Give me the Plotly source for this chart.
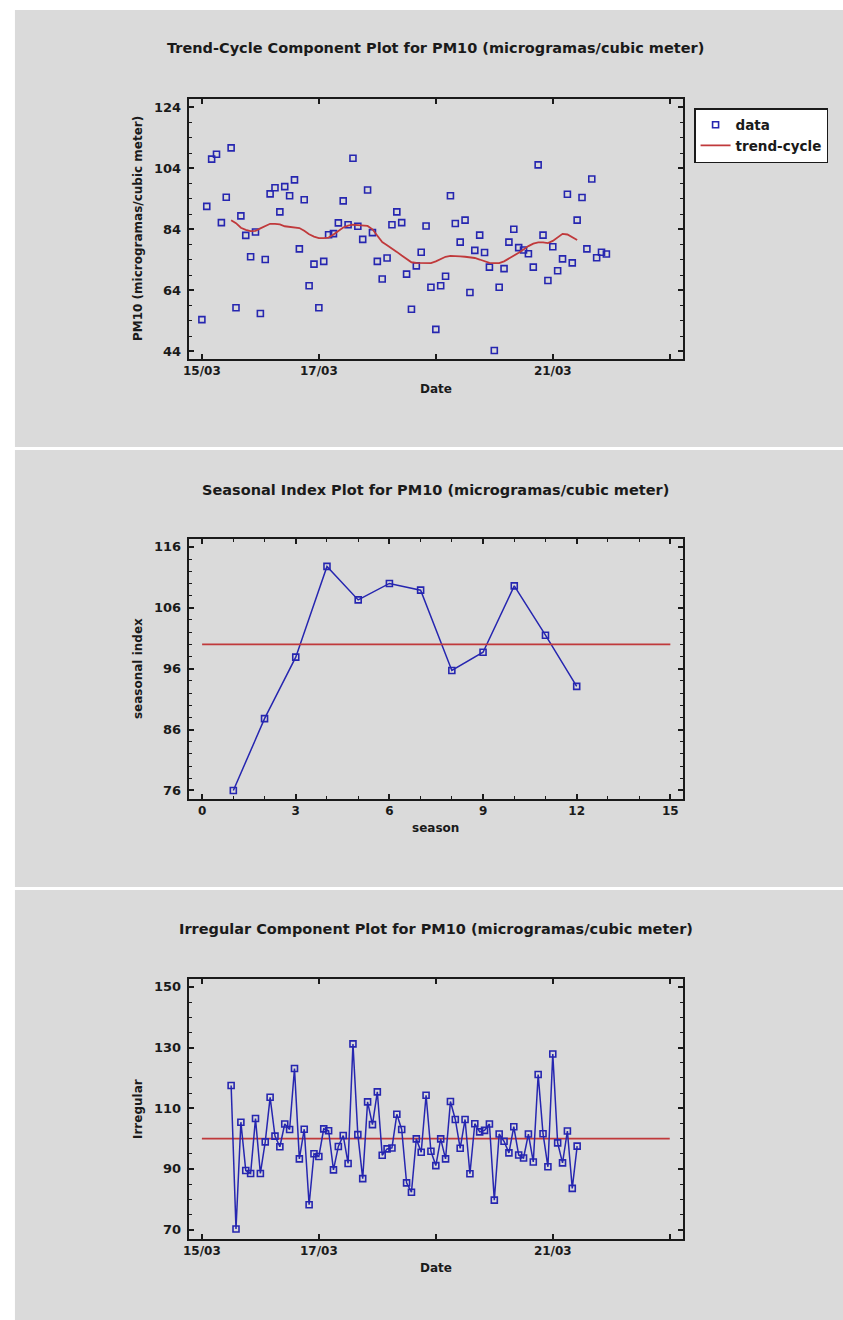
import pandas as pd
import plotly.graph_objects as go

W, H = 843, 1320

# ---------------- data ----------------
start_time = "2020-03-15 00:00"
pm10 = [54.4, 91.5, 107.0, 108.6, 86.2, 94.5, 110.7, 58.3, 88.4, 82.0,
        75.0, 83.1, 56.4, 74.1, 95.6, 97.6, 89.7, 98.0, 95.0, 100.2,
        77.6, 93.7, 65.5, 72.6, 58.3, 73.5, 82.2, 82.6, 86.1, 93.3,
        85.5, 107.3, 85.0, 80.7, 96.9, 82.9, 73.5, 67.7, 74.6, 85.5,
        89.7, 86.2, 69.3, 57.8, 72.0, 76.5, 85.1, 65.0, 51.2, 65.5,
        68.6, 95.0, 85.9, 79.8, 87.0, 63.3, 77.1, 82.1, 76.4, 71.6,
        44.3, 65.0, 71.1, 79.8, 84.0, 78.0, 77.2, 76.0, 71.6, 105.1,
        82.1, 67.2, 78.3, 70.4, 74.3, 95.5, 73.0, 87.0, 94.4, 77.6,
        100.5, 74.7, 76.5, 75.9]

trend_cycle = [87.0, 86.0, 84.5, 83.8, 83.4, 83.5, 84.3, 85.0, 85.8, 85.8,
               85.6, 85.0, 84.8, 84.7, 84.4, 83.5, 82.4, 81.6, 81.1, 81.1,
               81.3, 82.3, 83.5, 84.6, 85.2, 85.5, 85.4, 85.2, 85.1, 84.0,
               82.0, 79.8, 78.8, 77.8, 76.6, 75.4, 74.2, 73.2, 73.0, 72.9,
               72.9, 72.9, 73.5, 74.3, 75.0, 75.3, 75.3, 75.1, 75.0, 74.8,
               74.6, 74.1, 73.5, 73.0, 72.9, 72.9, 73.5, 74.4, 75.5, 76.3,
               77.4, 78.5, 79.3, 79.7, 79.7, 79.5, 80.2, 81.5, 82.5, 82.3,
               81.4, 80.5]

irregular = [117.5, 70.2, 105.4, 89.5, 88.5, 106.6, 88.5, 98.9, 113.6, 100.8,
             97.3, 104.8, 103.0, 123.1, 93.3, 103.1, 78.2, 95.0, 94.1, 103.2,
             102.6, 89.7, 97.4, 101.0, 91.8, 131.2, 101.3, 86.8, 112.1, 104.6,
             115.4, 94.5, 96.6, 96.9, 108.0, 103.0, 85.4, 82.3, 99.9, 95.5,
             114.3, 95.8, 91.1, 99.9, 93.3, 112.2, 106.3, 96.8, 106.3, 88.4,
             104.9, 102.2, 102.7, 104.8, 79.7, 101.5, 99.1, 95.3, 103.9, 94.6,
             93.6, 101.5, 92.3, 121.1, 101.6, 90.7, 127.9, 98.6, 92.0, 102.5,
             83.6, 97.5]
trend_offset = 6  # first smoothed observation index

seasons = [1, 2, 3, 4, 5, 6, 7, 8, 9, 10, 11, 12]
seasonal_index = [76.0, 87.8, 97.9, 112.8, 107.3, 110.0, 108.9, 95.7, 98.7,
                  109.6, 101.5, 93.1]
baseline = 100
baseline_seasons = [0, 15]
baseline_dates = ["2020-03-15", "2020-03-23"]

date_ticks = ["2020-03-15", "2020-03-17", "2020-03-19", "2020-03-21", "2020-03-23"]
date_ticktext = ["15/03", "17/03", "", "21/03", ""]

titles = ["Trend-Cycle Component Plot for PM10 (microgramas/cubic meter)",
          "Seasonal Index Plot for PM10 (microgramas/cubic meter)",
          "Irregular Component Plot for PM10 (microgramas/cubic meter)"]

# ---------------- styling ----------------
BLUE = "#2626b0"
RED = "#c0393b"
GRAY = "#dadada"
INK = "#1a1a1a"
FONT = "DejaVu Sans"

times = pd.date_range(start_time, periods=len(pm10), freq="2h")
t_trend = times[trend_offset:trend_offset + len(trend_cycle)]
t_irr = times[trend_offset:trend_offset + len(irregular)]

marker_style = dict(symbol="square-open", size=6, color=BLUE,
                    line=dict(width=1.6, color=BLUE))

fig = go.Figure()

fig.add_trace(go.Scatter(x=times, y=pm10, mode="markers", name="data",
                         marker=marker_style, xaxis="x", yaxis="y"))
fig.add_trace(go.Scatter(x=t_trend, y=trend_cycle, mode="lines", name="trend-cycle",
                         line=dict(color=RED, width=1.8), xaxis="x", yaxis="y"))

fig.add_trace(go.Scatter(x=seasons, y=seasonal_index, mode="lines+markers",
                         showlegend=False, line=dict(color=BLUE, width=1.5),
                         marker=marker_style, xaxis="x2", yaxis="y2"))
fig.add_trace(go.Scatter(x=baseline_seasons, y=[baseline, baseline], mode="lines",
                         showlegend=False, line=dict(color=RED, width=1.8),
                         xaxis="x2", yaxis="y2"))

fig.add_trace(go.Scatter(x=baseline_dates, y=[baseline, baseline], mode="lines",
                         showlegend=False, line=dict(color=RED, width=1.8),
                         xaxis="x3", yaxis="y3"))
fig.add_trace(go.Scatter(x=t_irr, y=irregular, mode="lines+markers",
                         showlegend=False, line=dict(color=BLUE, width=1.5),
                         marker=marker_style, xaxis="x3", yaxis="y3"))


def px_x(p):
    return p / W


def px_y(p):
    return 1 - p / H


xdom = [px_x(184), px_x(682)]
doms = [[px_y(359), px_y(99)], [px_y(799), px_y(539)], [px_y(1239), px_y(979)]]

axis_common = dict(showline=True, linecolor=INK, linewidth=2, mirror="ticks",
                   ticks="inside", ticklen=5, tickwidth=1.5, tickcolor=INK,
                   showgrid=False, zeroline=False)
xfont = dict(family=FONT, size=12, color=INK, weight="bold")
yfont = dict(family=FONT, size=13, color=INK, weight="bold")
minor_style = dict(ticks="inside", ticklen=3, tickwidth=1.2, tickcolor=INK)

date_range = ["2020-03-14 18:35", "2020-03-23 05:30"]

fig.update_layout(
    width=W, height=H,
    margin=dict(l=0, r=0, t=0, b=0),
    paper_bgcolor="white", plot_bgcolor="white",
    font=dict(family=FONT, color=INK),
    xaxis=dict(domain=xdom, anchor="y", type="date", range=date_range,
               tickmode="array", tickvals=date_ticks, ticktext=date_ticktext,
               tickfont=xfont, **axis_common),
    yaxis=dict(domain=doms[0], anchor="x", range=[41.5, 126.7],
               tick0=44, dtick=20, ticklabelstandoff=3, tickfont=yfont,
               minor=dict(tick0=44, dtick=5, **minor_style), **axis_common),
    xaxis2=dict(domain=xdom, anchor="y2", range=[-0.43, 15.41],
                tick0=0, dtick=3, tickfont=xfont,
                minor=dict(tick0=0, dtick=1, **minor_style), **axis_common),
    yaxis2=dict(domain=doms[1], anchor="x2", range=[74.6, 117.3],
                tick0=76, dtick=10, ticklabelstandoff=3, tickfont=yfont,
                minor=dict(tick0=76, dtick=2, **minor_style), **axis_common),
    xaxis3=dict(domain=xdom, anchor="y3", type="date", range=date_range,
                tickmode="array", tickvals=date_ticks, ticktext=date_ticktext,
                tickfont=xfont, **axis_common),
    yaxis3=dict(domain=doms[2], anchor="x3", range=[66.9, 152.6],
                tick0=70, dtick=20, ticklabelstandoff=3, tickfont=yfont,
                minor=dict(tick0=70, dtick=5, **minor_style), **axis_common),
    legend=dict(x=px_x(693), y=px_y(108), xanchor="left", yanchor="top",
                bgcolor="white", bordercolor=INK, borderwidth=1.5,
                font=dict(family=FONT, size=13.5, color=INK, weight="bold"),
                itemwidth=30, tracegroupgap=0),
    showlegend=True,
)

# gray panels
panels = [(9, 10, 843, 447), (9, 450, 843, 887), (9, 890, 843, 1320)]
for x0, y0, x1, y1 in panels:
    fig.add_shape(type="rect", xref="paper", yref="paper",
                  x0=px_x(x0), x1=px_x(x1), y0=px_y(y1), y1=px_y(y0),
                  fillcolor=GRAY, line=dict(width=0), layer="below")

title_font = dict(family=FONT, size=14.5, color=INK, weight="bold")
lab_font = dict(family=FONT, size=12, color=INK, weight="bold")
ann = [
    (titles[0], 433, 48, 0, title_font),
    ("PM10 (microgramas/cubic meter)", 133, 229, -90, lab_font),
    ("Date", 433, 389, 0, lab_font),
    (titles[1], 433, 490, 0, title_font),
    ("seasonal index", 133, 669, -90, lab_font),
    ("season", 433, 828, 0, lab_font),
    (titles[2], 433, 929, 0, title_font),
    ("Irregular", 133, 1109, -90, lab_font),
    ("Date", 433, 1268, 0, lab_font),
]
for text, x, y, ang, f in ann:
    fig.add_annotation(text=text, x=px_x(x), y=px_y(y), xref="paper", yref="paper",
                       showarrow=False, textangle=ang, font=f,
                       xanchor="center", yanchor="middle")

fig.write_html("out.html",
               config={"displayModeBar": False},
               post_script="document.body.style.margin='0px';"
                           "document.body.style.overflow='hidden';")
